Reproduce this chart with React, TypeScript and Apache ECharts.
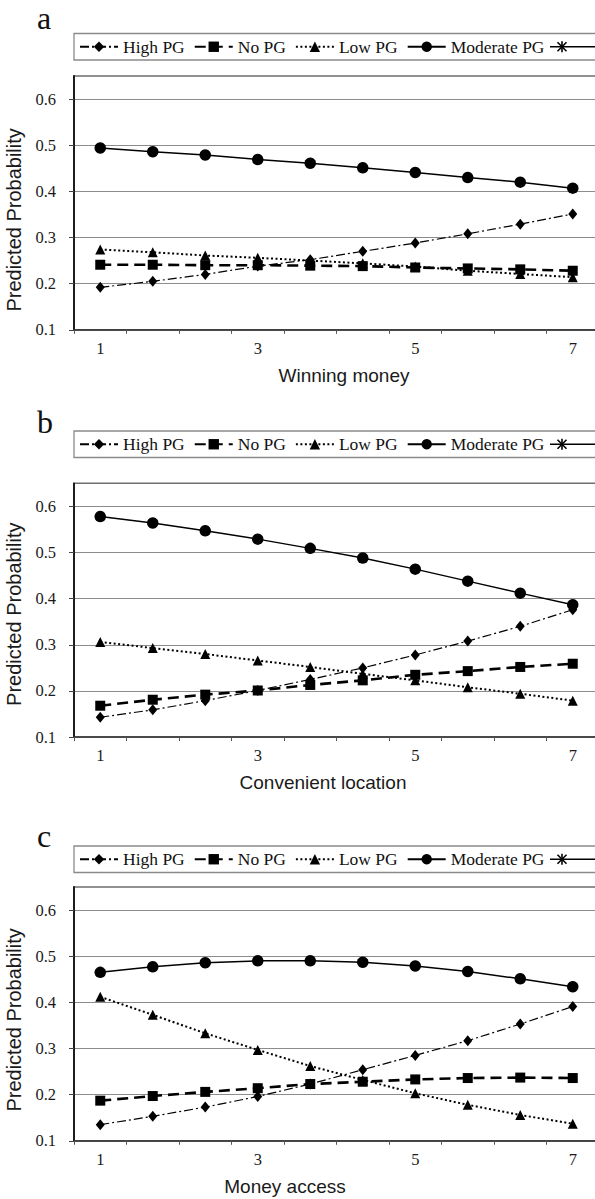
import React, { useEffect, useRef } from 'react';
import * as echarts from 'echarts';

// ---------- data ----------
const xCategories = ['1', '1.67', '2.33', '3', '3.67', '4.33', '5', '5.67', '6.33', '7'];
const xTickLabels = ['1', '3', '5', '7'];
const yTicks = [0.1, 0.2, 0.3, 0.4, 0.5, 0.6];
const seriesNames = ['High PG', 'No PG', 'Low PG', 'Moderate PG'];
const panelLabels = ['a', 'b', 'c'];
const xTitles = ['Winning money', 'Convenient location', 'Money access'];
const yTitle = 'Predicted Probability';

// panel a – Winning money
const aHigh = [0.192, 0.205, 0.22, 0.238, 0.252, 0.27, 0.288, 0.308, 0.329, 0.351];
const aNo = [0.241, 0.241, 0.24, 0.24, 0.239, 0.238, 0.235, 0.233, 0.231, 0.228];
const aLow = [0.274, 0.268, 0.261, 0.256, 0.25, 0.244, 0.237, 0.228, 0.221, 0.214];
const aModerate = [0.494, 0.486, 0.479, 0.469, 0.461, 0.451, 0.441, 0.43, 0.42, 0.407];

// panel b – Convenient location
const bHigh = [0.143, 0.159, 0.179, 0.201, 0.225, 0.25, 0.278, 0.308, 0.34, 0.376];
const bNo = [0.168, 0.181, 0.192, 0.201, 0.213, 0.223, 0.235, 0.243, 0.252, 0.259];
const bLow = [0.306, 0.293, 0.28, 0.266, 0.252, 0.237, 0.223, 0.208, 0.194, 0.179];
const bModerate = [0.578, 0.564, 0.547, 0.529, 0.509, 0.488, 0.464, 0.438, 0.412, 0.387];

// panel c – Money access
const cHigh = [0.135, 0.153, 0.173, 0.196, 0.223, 0.254, 0.285, 0.317, 0.353, 0.391];
const cNo = [0.187, 0.197, 0.206, 0.214, 0.223, 0.228, 0.233, 0.236, 0.237, 0.236];
const cLow = [0.412, 0.373, 0.333, 0.297, 0.262, 0.232, 0.203, 0.178, 0.156, 0.137];
const cModerate = [0.465, 0.477, 0.486, 0.49, 0.49, 0.487, 0.479, 0.467, 0.451, 0.434];

export default function App() {
  const ref = useRef<HTMLDivElement>(null);

  useEffect(() => {
    if (!ref.current) return;
    const chart = echarts.init(ref.current, null, { renderer: 'svg' });

    const panelData = [
      [aHigh, aNo, aLow, aModerate],
      [bHigh, bNo, bLow, bModerate],
      [cHigh, cNo, cLow, cModerate],
    ];
    const layout = [
      { gridTop: 76, legendTop: 33.5, labelY: 17.5, titlePad: [0, 0, 0, 15], yPad: [0, 34, 0, 0] },
      { gridTop: 483.3, legendTop: 431, labelY: 422, titlePad: [0, 27, 0, 0], yPad: [0, 8, 0, 0] },
      { gridTop: 887, legendTop: 846, labelY: 836, titlePad: [0, 103, 0, 0], yPad: [0, 12, 0, 0] },
    ];
    const gridLeft = 74;
    const gridWidth = 525;
    const gridHeight = 253.8;
    const legendH = 26.5;

    const styles = [
      { symbol: 'diamond', symbolSize: [9, 11], type: [9, 3, 2, 3], width: 1.2 },
      { symbol: 'rect', symbolSize: 10, type: [11, 6], width: 2.6 },
      { symbol: 'triangle', symbolSize: 10, type: [2, 2.5], width: 2 },
      { symbol: 'circle', symbolSize: 11.5, type: 'solid', width: 1.5 },
    ];

    const txt = '#1a1a1a';
    const grids: any[] = [];
    const xAxes: any[] = [];
    const yAxes: any[] = [];
    const legends: any[] = [];
    const series: any[] = [];
    const graphics: any[] = [];

    layout.forEach((L, p) => {
      grids.push({
        left: gridLeft,
        top: L.gridTop,
        width: gridWidth,
        height: gridHeight,
        show: true,
        borderColor: '#6e6e6e',
        borderWidth: 1.5,
        backgroundColor: 'transparent',
        outerBoundsMode: 'none',
      });
      xAxes.push({
        type: 'category',
        gridIndex: p,
        data: xCategories,
        boundaryGap: true,
        axisLine: { show: true, lineStyle: { color: '#333', width: 1.5 } },
        axisTick: { show: true, interval: 0, length: 4, alignWithLabel: false, lineStyle: { color: '#555', width: 1 } },
        axisLabel: {
          interval: 0,
          formatter: (v: string) => (xTickLabels.includes(v) ? v : ''),
          fontFamily: 'Liberation Serif',
          fontSize: 16.5,
          color: txt,
          margin: 10,
        },
        splitLine: { show: false },
        name: xTitles[p],
        nameLocation: 'middle',
        nameGap: 36,
        nameTextStyle: { fontFamily: 'Liberation Sans', fontSize: 19, color: txt, padding: L.titlePad },
      });
      yAxes.push({
        type: 'value',
        gridIndex: p,
        min: 0.1,
        max: 0.65,
        interval: 0.1,
        axisLine: { show: true, lineStyle: { color: '#111', width: 1.8 } },
        axisTick: { show: true, length: 5, customValues: yTicks, lineStyle: { color: '#444', width: 1 } },
        axisLabel: {
          customValues: yTicks,
          formatter: (v: number) => v.toFixed(1),
          fontFamily: 'Liberation Serif',
          fontSize: 16.5,
          color: txt,
          margin: 18,
        },
        splitLine: { show: true, lineStyle: { color: '#8c8c8c', width: 1.2 } },
        name: yTitle,
        nameLocation: 'middle',
        nameGap: 46,
        nameRotate: 90,
        nameTextStyle: { fontFamily: 'Liberation Sans', fontSize: 20, color: txt, padding: L.yPad },
      });
      legends.push({
        data: seriesNames,
        left: 79,
        top: L.legendTop + legendH / 2 - 9,
        padding: 0,
        itemWidth: 38,
        itemHeight: 13,
        itemGap: 9,
        selectedMode: false,
        textStyle: { fontFamily: 'Liberation Serif', fontSize: 17.5, color: '#111' },
      });
      seriesNames.forEach((name, s) => {
        const st = styles[s];
        series.push({
          type: 'line',
          name,
          xAxisIndex: p,
          yAxisIndex: p,
          data: panelData[p][s],
          symbol: st.symbol,
          symbolSize: st.symbolSize,
          lineStyle: { color: '#000', width: st.width, type: st.type },
          itemStyle: { color: '#000' },
          z: 3 + s,
        });
      });

      // panel letter
      graphics.push({
        type: 'text',
        x: 37,
        y: L.labelY,
        style: { text: panelLabels[p], font: '32px "Liberation Serif"', fill: '#111', verticalAlign: 'middle' },
      });
      // legend frame
      graphics.push({
        type: 'rect',
        shape: { x: 74, y: L.legendTop, width: 560, height: legendH },
        style: { fill: 'none', stroke: '#8a8a8a', lineWidth: 1.3 },
      });
      // fifth legend key (line with asterisk marker)
      const cy = L.legendTop + legendH / 2;
      const cx = 562;
      const r = 4.5;
      graphics.push({ type: 'line', shape: { x1: 550, y1: cy, x2: 600, y2: cy }, style: { stroke: '#000', lineWidth: 1.3 } });
      graphics.push({ type: 'line', shape: { x1: cx - r, y1: cy - r, x2: cx + r, y2: cy + r }, style: { stroke: '#000', lineWidth: 1.6 } });
      graphics.push({ type: 'line', shape: { x1: cx - r, y1: cy + r, x2: cx + r, y2: cy - r }, style: { stroke: '#000', lineWidth: 1.6 } });
      graphics.push({ type: 'line', shape: { x1: cx, y1: cy - r - 1, x2: cx, y2: cy + r + 1 }, style: { stroke: '#000', lineWidth: 1.6 } });
    });

    chart.setOption({
      animation: false,
      backgroundColor: '#fff',
      grid: grids,
      xAxis: xAxes,
      yAxis: yAxes,
      legend: legends,
      series,
      graphic: graphics,
    });

    return () => chart.dispose();
  }, []);

  return (
    <div style={{ position: 'absolute', left: 0, top: 0, width: 595, height: 1199, overflow: 'hidden', background: '#fff' }}>
      <div ref={ref} style={{ width: 600, height: 1199 }} />
    </div>
  );
}
